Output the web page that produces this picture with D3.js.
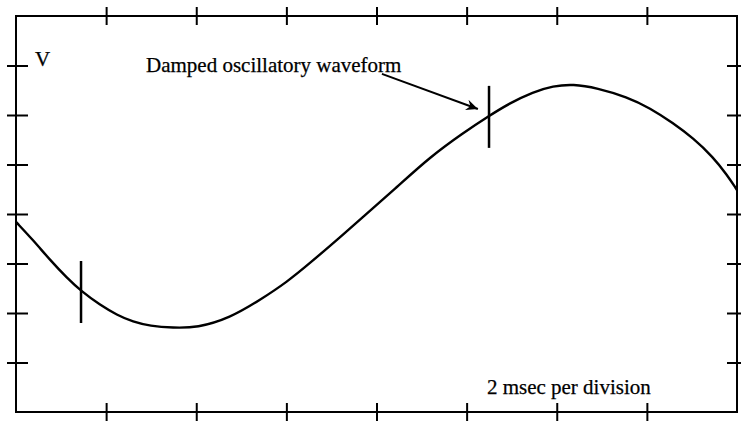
<!DOCTYPE html>
<html>
<head>
<meta charset="utf-8">
<script src="https://cdn.jsdelivr.net/npm/d3@7"></script>
<style>
  html, body { margin: 0; padding: 0; background: #fff; }
  svg { display: block; }
</style>
</head>
<body>
<svg id="chart" width="741" height="421"></svg>
<script>
// ---- data (time in ms, voltage in divisions) ----
const timeMs = [0, 0.377, 0.755, 1.132, 1.443, 1.864, 2.241, 2.597, 2.974, 3.484, 4.017, 4.749, 5.415, 6.014, 6.525, 7.146, 7.701, 8.455, 9.188, 9.92, 10.475, 10.963, 11.474, 11.918, 12.361, 12.894, 13.56, 14.07, 14.581, 15.025, 15.469, 15.78, 16.0];
const voltage = [-0.16, -0.525, -0.929, -1.293, -1.556, -1.838, -2.04, -2.18, -2.263, -2.30, -2.30, -2.10, -1.737, -1.374, -0.99, -0.505, -0.061, 0.545, 1.152, 1.636, 1.97, 2.242, 2.465, 2.586, 2.626, 2.545, 2.364, 2.141, 1.838, 1.535, 1.152, 0.788, 0.485];
const markerTimes = [1.443, 10.497];
const xTicks = [2, 4, 6, 8, 10, 12, 14];
const yTicks = [-3, -2, -1, 0, 1, 2, 3];
const xDomain = [0, 16];
const yDomain = [-4, 4];
const yLabel = "V";
const annotationText = "Damped oscillatory waveform";
const scaleText = "2 msec per division";

// ---- layout ----
const FONT = "'Liberation Serif', 'DejaVu Serif', 'Times New Roman', Times, serif";
const L = 16, R = 737, T = 16, B = 412;
const svg = d3.select("#chart");
const x = d3.scaleLinear().domain(xDomain).range([L, R]);
const y = d3.scaleLinear().domain(yDomain).range([B, T]);

// frame
svg.append("rect")
  .attr("x", L).attr("y", T).attr("width", R - L).attr("height", B - T)
  .attr("fill", "none").attr("stroke", "#000").attr("stroke-width", 2);

function styleAxis(g) {
  g.select(".domain").remove();
  g.selectAll(".tick line").attr("stroke", "#000").attr("stroke-width", 2);
  g.selectAll(".tick text").remove();
}
svg.append("g").attr("transform", `translate(0,${T + 9})`)
  .call(d3.axisTop(x).tickValues(xTicks).tickSize(18).tickFormat("")).call(styleAxis);
svg.append("g").attr("transform", `translate(0,${B - 9})`)
  .call(d3.axisBottom(x).tickValues(xTicks).tickSize(18).tickFormat("")).call(styleAxis);
svg.append("g").attr("transform", `translate(${L + 12},0)`)
  .call(d3.axisLeft(y).tickValues(yTicks).tickSize(21).tickFormat("")).call(styleAxis);
svg.append("g").attr("transform", `translate(${R - 10},0)`)
  .call(d3.axisRight(y).tickValues(yTicks).tickSize(20).tickFormat("")).call(styleAxis);

// waveform
const pts = timeMs.map((t, i) => [t, voltage[i]]);
const line = d3.line().x(d => x(d[0])).y(d => y(d[1])).curve(d3.curveBasis);
svg.append("path").datum(pts)
  .attr("d", line).attr("fill", "none").attr("stroke", "#000").attr("stroke-width", 2.4)
  .attr("stroke-linejoin", "round");

// vertical markers on the curve
const interp = t => {
  const i = d3.bisectLeft(timeMs, t);
  if (i <= 0) return voltage[0];
  const t0 = timeMs[i - 1], t1 = timeMs[i];
  return voltage[i - 1] + (voltage[i] - voltage[i - 1]) * (t - t0) / (t1 - t0);
};
markerTimes.forEach(t => {
  const v = interp(t);
  svg.append("line")
    .attr("x1", x(t)).attr("x2", x(t))
    .attr("y1", y(v) - 30).attr("y2", y(v) + 32)
    .attr("stroke", "#000").attr("stroke-width", 2.5);
});

// arrow marker
svg.append("defs").append("marker")
  .attr("id", "arrow").attr("viewBox", "-12 -6 13 12")
  .attr("refX", 0).attr("refY", 0)
  .attr("markerWidth", 13).attr("markerHeight", 12)
  .attr("markerUnits", "userSpaceOnUse")
  .attr("orient", "auto")
  .append("path").attr("d", "M0,0 L-12,-5.5 L-8,0 L-12,5.5 Z").attr("fill", "#000");

svg.append("line")
  .attr("x1", x(8.12)).attr("y1", y(2.83))
  .attr("x2", x(10.25)).attr("y2", y(2.12))
  .attr("stroke", "#000").attr("stroke-width", 2)
  .attr("marker-end", "url(#arrow)");

// texts
function addText(tx, ty, s) {
  svg.append("text").attr("x", x(tx)).attr("y", y(ty))
    .attr("font-family", FONT).attr("font-size", 21).attr("fill", "#000")
    .attr("stroke", "#000").attr("stroke-width", 0.25)
    .text(s);
}
addText(0.42, 3.0, yLabel);
addText(2.885, 2.87, annotationText);
addText(10.45, -3.64, scaleText);
</script>
</body>
</html>
